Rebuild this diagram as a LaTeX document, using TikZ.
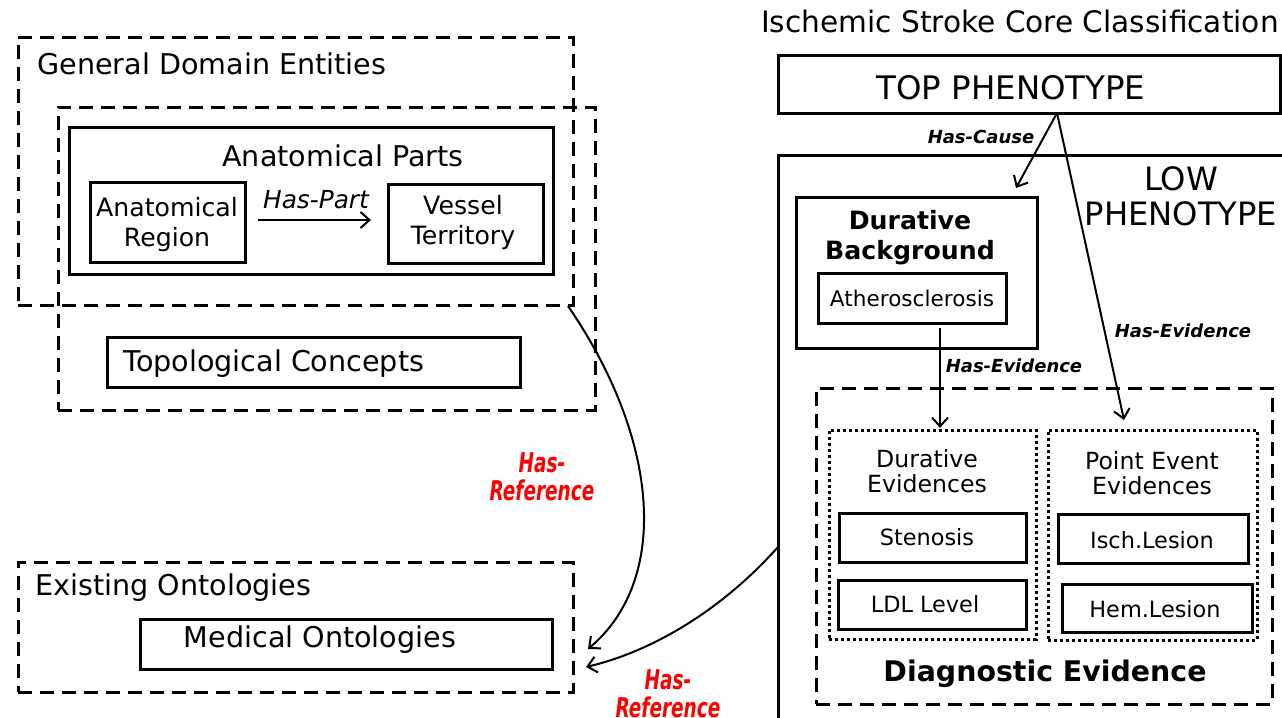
\documentclass[tikz,border=0pt]{standalone}
\usepackage{fontspec}
\setmainfont{DejaVu Sans}
\usetikzlibrary{arrows.meta,fit}

\tikzset{
  x=0.5pt, y=-0.5pt,
  solidbox/.style={draw, line width=1.5pt, inner sep=0pt},
  dashbox/.style={draw, line width=1.5pt, inner sep=0pt, dash pattern=on 7pt off 4pt},
  dotbox/.style={draw, line width=1.5pt, inner sep=0pt, dash pattern=on 1.5pt off 1.5pt},
  txt/.style={inner sep=0pt, align=center},
  big/.style={font=\fontsize{14.3}{17}\selectfont},
  mid/.style={font=\fontsize{12.6}{15}\selectfont},
  small/.style={font=\fontsize{11.2}{12.5}\selectfont},
  rel/.style={line width=1pt, -{Straight Barb[length=4.5pt,width=8pt]}},
  rellabel/.style={inner sep=0pt, font=\fontsize{9}{11}\bfseries\itshape\selectfont},
  plainlabel/.style={inner sep=0pt, font=\fontsize{12.4}{14}\itshape\selectfont},
  reflabel/.style={inner sep=0pt, align=center, text=red, font=\fontsize{13.6}{14}\bfseries\itshape\selectfont},
}

\begin{document}
\begin{tikzpicture}
\useasboundingbox (0,0) rectangle (1282,718);
\clip (0,0) rectangle (1282,718);

% ---------------- general domain entities ----------------
\node[dashbox, fit={(18,37) (573,305)}] (gde) {};
\node[txt, big, anchor=west] (gdetitle) at (37,64) {General Domain Entities};
\node[dashbox, fit={(58,107) (595,410)}] (inner) {};
\node[solidbox, fit={(69,127) (553,274)}] (parts) {};
\node[txt, big] (partstitle) at (343,156) {Anatomical Parts};
\node[solidbox, fit={(90,182) (245,262)}] (region) {};
\node[txt, mid] (regiontxt) at (167,225) {Anatomical\\Region};
\node[solidbox, fit={(388,184) (543,263)}] (vessel) {};
\node[txt, mid] (vesseltxt) at (463,223) {Vessel\\Territory};
\coordinate (hp1) at (258,220);
\coordinate (hp2) at (371,220);
\draw[rel] (hp1) -- (hp2);
\node[plainlabel] (haspart) at (316,200) {Has-Part};
\node[solidbox, fit={(107,337) (520,387)}] (topo) {};
\node[txt, big, anchor=west] (topotxt) at (123,364) {Topological Concepts};

% ---------------- existing ontologies ----------------
\node[dashbox, fit={(18,562) (573,692)}] (exist) {};
\node[txt, big, anchor=west] (existtxt) at (35,588) {Existing Ontologies};
\node[solidbox, fit={(140,619) (552,669)}] (medical) {};
\node[txt, big] (medicaltxt) at (320,640) {Medical Ontologies};

% ---------------- stroke classification ----------------
\node[txt, font=\fontsize{14.8}{17}\selectfont] (title) at (1020,21) {Ischemic Stroke Core Classification};
\node[solidbox, fit={(778,55) (1280,113)}] (top) {};
\node[txt, font=\fontsize{16.2}{18}\selectfont] (toptxt) at (1011,88) {TOP PHENOTYPE};
\node[solidbox, fit={(778,155) (1300,740)}] (low) {};
\node[txt, font=\fontsize{16.1}{17.5}\selectfont] (lowtxt) at (1181,196) {LOW\\PHENOTYPE};

\node[solidbox, fit={(796,197) (1037,348)}] (durbg) {};
\node[txt, font=\fontsize{12.6}{15}\bfseries\selectfont] (durbgtxt) at (910,238) {Durative\\Background};
\node[solidbox, fit={(818,273) (1006,323)}] (athero) {};
\node[txt, font=\fontsize{10.8}{13}\selectfont] (atherotxt) at (912,298) {Atherosclerosis};

\node[dashbox, fit={(816,388) (1272,704)}] (diag) {};
\node[txt, font=\fontsize{14.2}{17}\bfseries\selectfont] (diagtxt) at (1045,674) {Diagnostic Evidence};

\node[dotbox, fit={(829,430) (1036,639)}] (durev) {};
\node[txt, font=\fontsize{11.8}{12.6}\selectfont] (durevtxt) at (927,471) {Durative\\Evidences};
\node[dotbox, fit={(1048,430) (1257,640)}] (pointev) {};
\node[txt, font=\fontsize{11.8}{12.6}\selectfont] (pointevtxt) at (1152,473) {Point Event\\Evidences};

\node[solidbox, fit={(839,513) (1026,562)}] (steno) {};
\node[txt, small] (stenotxt) at (927,537) {Stenosis};
\node[solidbox, fit={(838,580) (1026,629)}] (ldl) {};
\node[txt, small] (ldltxt) at (925,604) {LDL Level};
\node[solidbox, fit={(1058,514) (1248,563)}] (isch) {};
\node[txt, small] (ischtxt) at (1152,540) {Isch.Lesion};
\node[solidbox, fit={(1062,584) (1252,632)}] (hem) {};
\node[txt, small] (hemtxt) at (1155,609) {Hem.Lesion};

% ---------------- relations ----------------
\coordinate (topfoot) at (1057,113);
\coordinate (causetip) at (1016,188);
\coordinate (evidtip) at (1124,420);
\coordinate (athfoot) at (940,328);
\coordinate (durevtop) at (940,428);
\draw[rel] (topfoot) -- (causetip);
\draw[rel] (topfoot) -- (evidtip);
\draw[rel] (athfoot) -- (durevtop);
\node[rellabel] (causelbl) at (981,137) {Has-Cause};
\node[rellabel] (evidlbl1) at (1183,331) {Has-Evidence};
\node[rellabel] (evidlbl2) at (1014,366) {Has-Evidence};

\coordinate (gdecorner) at (568,306);
\coordinate (reftip1) at (588,649);
\coordinate (lowleft) at (778,547);
\coordinate (reftip2) at (586,667);
\draw[rel] (gdecorner) .. controls (660,440) and (670,580) .. (reftip1);
\draw[rel] (lowleft) .. controls (720,612) and (650,652) .. (reftip2);
\node[reflabel] (ref1) at (542,477) {\scalebox{0.68}[1]{Has-}\\\scalebox{0.68}[1]{Reference}};
\node[reflabel] (ref2) at (668,694) {\scalebox{0.68}[1]{Has-}\\\scalebox{0.68}[1]{Reference}};
\end{tikzpicture}
\end{document}
